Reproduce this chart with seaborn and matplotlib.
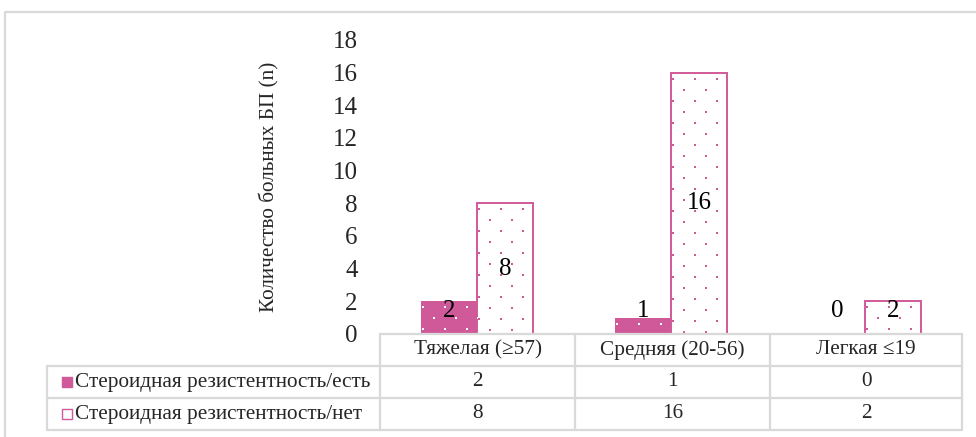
import matplotlib
matplotlib.use("Agg")
import matplotlib.pyplot as plt
from matplotlib.lines import Line2D
from matplotlib.patches import Rectangle
import numpy as np
import seaborn as sns
import pandas as pd

sns.set_theme(style="white")
plt.rcParams["font.family"] = ["Liberation Serif", "DejaVu Serif"]

categories = ["Тяжелая (≥57)", "Средняя (20-56)", "Легкая ≤19"]
series_names = ["Стероидная резистентность/есть", "Стероидная резистентность/нет"]
resistant_yes = [2, 1, 0]
resistant_no = [8, 16, 2]
y_ticks = [0, 2, 4, 6, 8, 10, 12, 14, 16, 18]
y_label = "Количество больных БП (n)"

PINK = "#D0599A"
GRID = "#D9D9D9"

df = pd.DataFrame({
    "cat": categories * 2,
    "series": [series_names[0]] * 3 + [series_names[1]] * 3,
    "n": resistant_yes + resistant_no,
})

W, H = 976, 437
fig = plt.figure(figsize=(W / 100, H / 100), dpi=100)

# plot area in pixel coordinates
x0, x1 = 380, 962
ytop, ybot = 40, 334
ax = fig.add_axes([x0 / W, 1 - ybot / H, (x1 - x0) / W, (ybot - ytop) / H])

sns.barplot(data=df, x="cat", y="n", hue="series", hue_order=series_names,
            order=categories, palette=[PINK, "white"], width=0.58,
            dodge=True, legend=False, ax=ax, errorbar=None, saturation=1)

ax.set_xlim(-0.5, 2.5)
ax.set_ylim(0, 18)

# styling of the two series
for bar in ax.containers[0]:
    bar.set_facecolor(PINK)
    bar.set_linewidth(0)
for bar in ax.containers[1]:
    bar.set_facecolor("white")
    bar.set_edgecolor(PINK)
    bar.set_linewidth(1.4)


# sparse dotted fill pattern, clipped to each bar
def dot_pattern(bar, color):
    inv = ax.transData.inverted()
    (bx0, by0), (bx1, by1) = ax.transData.transform(
        [(bar.get_x(), bar.get_y()),
         (bar.get_x() + bar.get_width(), bar.get_y() + bar.get_height())])
    left, right = min(bx0, bx1), max(bx0, bx1)
    bottom, top = min(by0, by1), max(by0, by1)
    if top - bottom < 1:
        return
    pts = []
    row = 0
    yy = top - 6
    while yy > bottom - 2:
        xx = left + 2 + (11 if row % 2 else 0)
        while xx < right + 2:
            pts.append((xx, yy))
            xx += 22
        yy -= 11
        row += 1
    pts = inv.transform(np.array(pts))
    sc = ax.scatter(pts[:, 0], pts[:, 1], s=4.5, marker="s", color=color,
                    linewidths=0, zorder=bar.get_zorder() + 0.1)
    sc.set_clip_path(bar)


for bar in ax.containers[0]:
    dot_pattern(bar, "white")
for bar in ax.containers[1]:
    dot_pattern(bar, PINK)

# value labels inside the bars
for cont, vals in zip(ax.containers, [resistant_yes, resistant_no]):
    for bar, v in zip(cont, vals):
        cx = bar.get_x() + bar.get_width() / 2
        cy = v / 2 if v > 2 else 1.4
        ax.text(cx, cy, str(v), ha="center", va="center", fontsize=18,
                color="black", zorder=5)

ax.set_yticks(y_ticks)
ax.set_yticklabels([str(t) for t in y_ticks], fontsize=18)
ax.tick_params(axis="y", length=0, pad=16)
ax.set_xticks([])
ax.set_xlabel("")
ax.set_ylabel(y_label, fontsize=15.3)
ax.yaxis.set_label_coords(-0.172, 0.5)
for s in ax.spines.values():
    s.set_visible(False)
ax.patch.set_alpha(0)


# data table under the chart
def fx(px):
    return px / W


def fy(py):
    return 1 - py / H


def hline(xa, xb, y):
    fig.add_artist(Line2D([fx(xa), fx(xb)], [fy(y), fy(y)], color=GRID, lw=1.6))


def vline(x, ya, yb):
    fig.add_artist(Line2D([fx(x), fx(x)], [fy(ya), fy(yb)], color=GRID, lw=1.6))


col_edges = [380, 575, 770, 962]
row_edges = [334, 366, 398, 430]
label_left = 47

hline(col_edges[0], col_edges[-1], row_edges[0])
for r in row_edges[1:]:
    hline(label_left, col_edges[-1], r)
for c in col_edges:
    vline(c, row_edges[0], row_edges[-1])
vline(label_left, row_edges[1], row_edges[-1])

tfs = 15.3
for i, cat in enumerate(categories):
    cx = (col_edges[i] + col_edges[i + 1]) / 2
    fig.text(fx(cx), fy((row_edges[0] + row_edges[1]) / 2), cat,
             ha="center", va="center", fontsize=tfs)
    fig.text(fx(cx), fy((row_edges[1] + row_edges[2]) / 2), str(resistant_yes[i]),
             ha="center", va="center", fontsize=tfs)
    fig.text(fx(cx), fy((row_edges[2] + row_edges[3]) / 2), str(resistant_no[i]),
             ha="center", va="center", fontsize=tfs)

# legend keys inside the row headers
for k, (name, face) in enumerate(zip(series_names, [PINK, "white"])):
    yc = (row_edges[k + 1] + row_edges[k + 2]) / 2
    fig.add_artist(Rectangle((fx(62), fy(yc + 5)), 10 / W, 10 / H,
                             facecolor=face, edgecolor=PINK, lw=1.0,
                             transform=fig.transFigure))
    fig.text(fx(75), fy(yc), name, ha="left", va="center", fontsize=tfs)

# outer chart frame
fig.add_artist(Line2D([fx(5), fx(5), fx(980)], [fy(440), fy(12), fy(12)],
                      color=GRID, lw=1.6))

fig.savefig("out.png", dpi=100)
